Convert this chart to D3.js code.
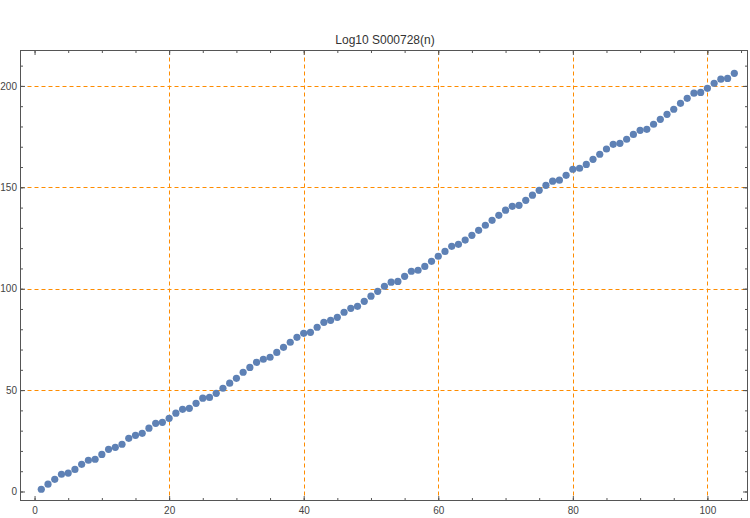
<!DOCTYPE html>
<html><head><meta charset="utf-8">
<script src="https://cdn.jsdelivr.net/npm/d3@7"></script>
<style>body{margin:0;background:#fff}svg{display:block}</style>
</head><body>
<script>
const title = "Log10 S000728(n)";
const values = [1.1,3.6,6.0,8.5,9.1,10.9,13.4,15.4,15.9,18.3,20.8,21.8,23.3,26.2,27.7,28.7,31.2,33.6,34.1,36.1,38.6,
40.5,41.0,43.5,46.0,46.4,48.4,50.9,53.4,55.8,58.8,61.2,63.7,65.2,66.2,68.6,71.1,73.6,76.0,78.0,78.5,81.0,
83.4,84.4,85.9,88.4,90.3,91.3,93.8,96.3,98.7,101.2,103.2,103.6,106.1,108.6,109.1,111.0,113.5,116.0,118.4,120.9,121.9,
124.0,126.3,128.8,131.3,133.7,136.2,138.7,140.6,141.1,143.6,146.1,148.5,151.0,153.0,153.5,155.9,158.9,159.4,161.3,163.8,166.3,
168.9,171.2,171.7,173.7,176.1,178.1,178.6,181.1,183.5,186.0,188.5,191.4,193.9,196.4,196.8,198.8,201.3,203.3,203.7,206.2];
const xTicks = [0,20,40,60,80,100];
const yTicks = [0,50,100,150,200];
const xGrid = [20,40,60,80,100];
const yGrid = [50,100,150,200];

const W = 750, H = 518;
const L = 20.5, R = 747.5, T = 50.5, B = 500.5;
const x = d3.scaleLinear().domain([-2.09, 105.96]).range([L, R]);
const y = d3.scaleLinear().domain([-4.44, 217.46]).range([B, T]);

const svg = d3.select("body").append("svg").attr("width", W).attr("height", H)
  .style("font-family", "'Liberation Sans', Arial, sans-serif");

svg.append("text").attr("x", 385).attr("y", 44).attr("text-anchor", "middle")
  .attr("font-size", 12).attr("fill", "#333").text(title);

const grid = svg.append("g").attr("stroke", "#FF8C00").attr("stroke-width", 1).attr("stroke-dasharray", "4,3").attr("fill", "none");
grid.selectAll(".gx").data(xGrid).join("line").attr("x1", d => Math.round(x(d)) + 0.5).attr("x2", d => Math.round(x(d)) + 0.5).attr("y1", T).attr("y2", B);
grid.selectAll(".gy").data(yGrid).join("line").attr("y1", d => Math.round(y(d)) + 0.5).attr("y2", d => Math.round(y(d)) + 0.5).attr("x1", L).attr("x2", R);

const xMinor = d3.range(0, 106, 5);
const yMinor = d3.range(0, 218, 10);
const axCol = "#555";
function styleAxis(g) {
  g.selectAll(".domain").remove();
  g.selectAll(".tick line").attr("stroke", axCol);
  g.selectAll(".tick text").attr("fill", "#444").attr("font-size", 10);
}
svg.append("g").attr("transform", `translate(0,${B})`)
  .call(d3.axisBottom(x).tickValues(xMinor).tickSize(-2.5).tickFormat("")).call(styleAxis);
svg.append("g").attr("transform", `translate(0,${B})`)
  .call(d3.axisBottom(x).tickValues(xTicks).tickSize(-4.5).tickPadding(6).tickFormat(d3.format("d"))).call(styleAxis);
svg.append("g").attr("transform", `translate(0,${T})`)
  .call(d3.axisTop(x).tickValues(xMinor).tickSize(-2.5).tickFormat("")).call(styleAxis);
svg.append("g").attr("transform", `translate(0,${T})`)
  .call(d3.axisTop(x).tickValues(xTicks).tickSize(-4.5).tickFormat("")).call(styleAxis);
svg.append("g").attr("transform", `translate(${L},0)`)
  .call(d3.axisLeft(y).tickValues(yMinor).tickSize(-2.5).tickFormat("")).call(styleAxis);
svg.append("g").attr("transform", `translate(${L},0)`)
  .call(d3.axisLeft(y).tickValues(yTicks).tickSize(-4.5).tickPadding(3.5).tickFormat(d3.format("d"))).call(styleAxis);
svg.append("g").attr("transform", `translate(${R},0)`)
  .call(d3.axisRight(y).tickValues(yMinor).tickSize(-2.5).tickFormat("")).call(styleAxis);
svg.append("g").attr("transform", `translate(${R},0)`)
  .call(d3.axisRight(y).tickValues(yTicks).tickSize(-4.5).tickFormat("")).call(styleAxis);

svg.append("rect").attr("x", L).attr("y", T).attr("width", R - L).attr("height", B - T)
  .attr("fill", "none").attr("stroke", axCol).attr("stroke-width", 1);

svg.append("g").selectAll("circle").data(values).join("circle")
  .attr("cx", (d, i) => x(i + 1)).attr("cy", d => y(d)).attr("r", 3.6).attr("fill", "#5E81B5");
</script>
</body></html>
